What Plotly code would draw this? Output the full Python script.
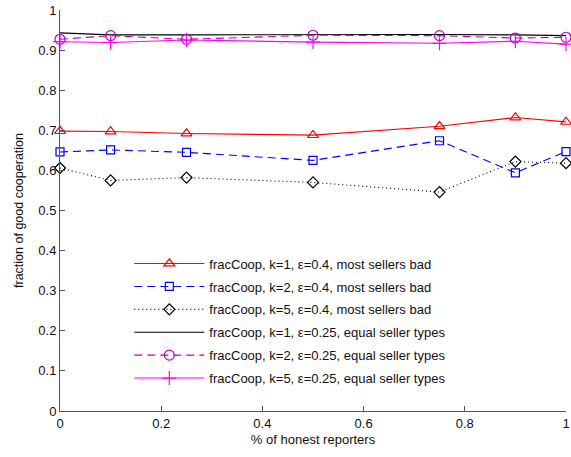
import plotly.graph_objects as go

# fraction of honest reporters (x axis)
honest = [0, 0.1, 0.25, 0.5, 0.75, 0.9, 1]

# fraction of good cooperation, epsilon = 0.4, most sellers bad
coop_k1_bad = [0.698, 0.697, 0.692, 0.688, 0.710, 0.732, 0.721]
coop_k2_bad = [0.646, 0.651, 0.645, 0.625, 0.674, 0.594, 0.647]
coop_k5_bad = [0.606, 0.575, 0.582, 0.570, 0.546, 0.622, 0.618]

# fraction of good cooperation, epsilon = 0.25, equal seller types
coop_k1_eq = [0.943, 0.938, 0.938, 0.939, 0.939, 0.938, 0.936]
coop_k2_eq = [0.927, 0.936, 0.927, 0.937, 0.936, 0.930, 0.932]
coop_k5_eq = [0.921, 0.919, 0.925, 0.920, 0.917, 0.922, 0.915]

names = [
    "fracCoop, k=1, ε=0.4, most sellers bad",
    "fracCoop, k=2, ε=0.4, most sellers bad",
    "fracCoop, k=5, ε=0.4, most sellers bad",
    "fracCoop, k=1, ε=0.25, equal seller types",
    "fracCoop, k=2, ε=0.25, equal seller types",
    "fracCoop, k=5, ε=0.25, equal seller types",
]

series = [coop_k1_bad, coop_k2_bad, coop_k5_bad, coop_k1_eq, coop_k2_eq, coop_k5_eq]
styles = [
    dict(color="#FF0000", dash="solid", symbol="triangle-up-open", size=9.5),
    dict(color="#0000FF", dash="8px,5px", symbol="square-open", size=8),
    dict(color="#000000", dash="1px,3px", symbol="diamond-open", size=8.5),
    dict(color="#000000", dash="solid", symbol=None, size=0),
    dict(color="#BF00BF", dash="8px,5px", symbol="circle-open", size=10),
    dict(color="#FF00FF", dash="solid", symbol="cross-thin-open", size=10),
]

fig = go.Figure()
for i, (name, ys, st) in enumerate(zip(names, series, styles)):
    mode = "lines+markers" if st["symbol"] else "lines"
    marker = dict(symbol=st["symbol"], size=st["size"], color=st["color"],
                  line=dict(color=st["color"], width=1.2)) if st["symbol"] else None
    fig.add_trace(go.Scatter(
        x=honest, y=ys, name=name, mode=mode,
        line=dict(color=st["color"], width=1.1, dash=st["dash"]),
        marker=marker, legendgroup=f"g{i}", cliponaxis=False,
    ))

axis_common = dict(
    showgrid=False, zeroline=False, showline=True, linecolor="#555555", linewidth=1,
    ticks="inside", ticklen=5, tickcolor="#555555",
    tickfont=dict(family="Liberation Sans, Arial", size=13, color="#111111"),
    mirror=False, ticklabeloverflow="allow",
)

fig.update_layout(
    width=571, height=457,
    margin=dict(l=60, r=1, t=10, b=46),
    paper_bgcolor="white", plot_bgcolor="white",
    font=dict(family="Liberation Sans, Arial", size=13, color="#111111"),
    xaxis=dict(range=[0, 1], dtick=0.2, tick0=0,
               title=dict(text="% of honest reporters", standoff=5,
                          font=dict(size=13)),
               **axis_common),
    yaxis=dict(range=[0, 1], dtick=0.1, tick0=0,
               title=dict(text="fraction of good cooperation", standoff=11,
                          font=dict(size=12.5)),
               **axis_common),
    legend=dict(x=0.137, y=0.405, xanchor="left", yanchor="top",
                bgcolor="rgba(0,0,0,0)", borderwidth=0,
                font=dict(size=13), itemwidth=70, tracegroupgap=3),
    showlegend=True,
)

fig.write_html("out.html")
